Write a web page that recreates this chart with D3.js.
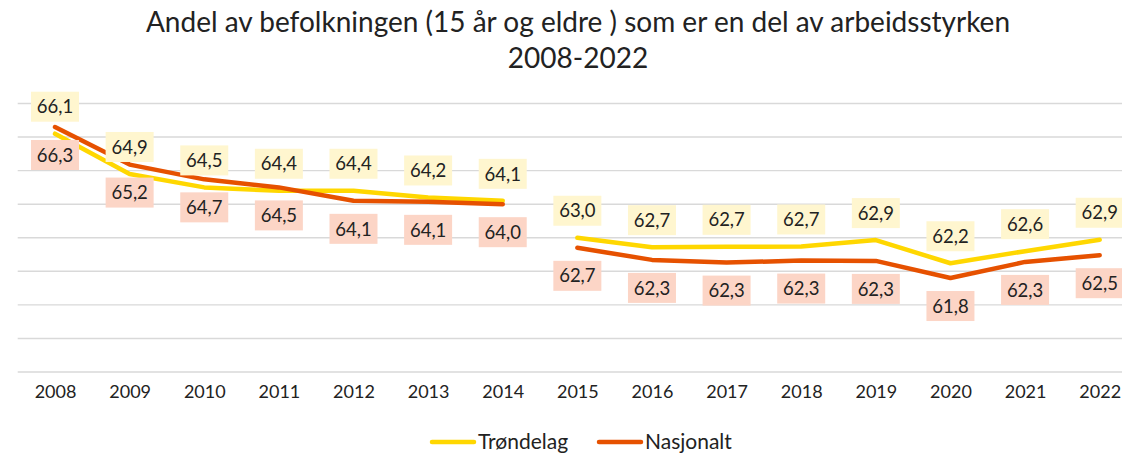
<!DOCTYPE html>
<html>
<head>
  <script src="https://d3js.org/d3.v7.min.js"></script>
  <style>
    body { margin: 0; background: #fff; }
    text { font-family: "Lato", "Open Sans", sans-serif; fill: #222; }
  </style>
</head>
<body>
  <script>
    // data
    const years = ["2008", "2009", "2010", "2011", "2012", "2013", "2014", "2015",
                   "2016", "2017", "2018", "2019", "2020", "2021", "2022"];
    const trondelag = [66.1, 64.9, 64.5, 64.4, 64.4, 64.2, 64.1, 63.0, 62.72, 62.73, 62.74, 62.93, 62.24, 62.6, 62.94];
    const nasjonalt = [66.3, 65.18, 64.74, 64.5, 64.1, 64.07, 64.0, 62.7, 62.34, 62.26, 62.32, 62.31, 61.8, 62.28, 62.48];
    const yTicks = [59, 60, 61, 62, 63, 64, 65, 66, 67];
    const breakAfter = "2014"; // series are not joined across this year

    const width = 1122;
    const height = 454;

    const svg = d3.select("body")
      .append("svg")
      .attr("width", width)
      .attr("height", height);

    const x = d3.scalePoint()
      .domain(years)
      .range([17.7, 1137])
      .padding(0.5);

    const y = d3.scaleLinear()
      .domain([59, 67])
      .range([372, 103.5]);

    // title
    svg.append("text")
      .attr("x", 578)
      .attr("y", 32)
      .attr("text-anchor", "middle")
      .attr("font-size", "28px")
      .text("Andel av befolkningen (15 år og eldre ) som er en del av arbeidsstyrken");
    svg.append("text")
      .attr("x", 578)
      .attr("y", 68)
      .attr("text-anchor", "middle")
      .attr("font-size", "28px")
      .text("2008-2022");

    // gridlines
    svg.append("g")
      .selectAll("line")
      .data(yTicks)
      .join("line")
      .attr("x1", 17.7)
      .attr("x2", 1137)
      .attr("y1", d => y(d))
      .attr("y2", d => y(d))
      .attr("stroke", "#d9d9d9")
      .attr("stroke-width", 1.4);

    // x axis labels
    const xAxis = svg.append("g")
      .attr("transform", `translate(0, ${y(59)})`)
      .call(d3.axisBottom(x).tickSize(0).tickPadding(13));
    xAxis.select(".domain").remove();
    xAxis.selectAll("text")
      .attr("font-size", "18px")
      .attr("font-family", "Lato, sans-serif")
      .attr("fill", "#222");

    const series = [
      { name: "Trøndelag", values: trondelag, color: "#ffd700", box: "#fff6cf", dy: -27 },
      { name: "Nasjonalt", values: nasjonalt, color: "#e65100", box: "#fcd5c6", dy: 28 }
    ];

    const breakIndex = years.indexOf(breakAfter);

    const line = d3.line()
      .x(d => x(d.year))
      .y(d => y(d.value));

    series.forEach(s => {
      const pts = years.map((yr, i) => ({ year: yr, value: s.values[i] }));
      [pts.slice(0, breakIndex + 1), pts.slice(breakIndex + 1)].forEach(seg => {
        svg.append("path")
          .datum(seg)
          .attr("d", line)
          .attr("fill", "none")
          .attr("stroke", s.color)
          .attr("stroke-width", 4.5)
          .attr("stroke-linejoin", "round")
          .attr("stroke-linecap", "round");
      });
    });

    // data labels
    series.forEach(s => {
      const g = svg.append("g")
        .selectAll("g")
        .data(years.map((yr, i) => ({ year: yr, value: s.values[i] })))
        .join("g")
        .attr("transform", d => `translate(${x(d.year)}, ${y(d.value) + s.dy})`);
      g.append("rect")
        .attr("x", -24)
        .attr("y", -15)
        .attr("width", 48)
        .attr("height", 30)
        .attr("fill", s.box);
      g.append("text")
        .attr("text-anchor", "middle")
        .attr("dy", "0.36em")
        .attr("font-size", "18.5px")
        .text(d => d3.format(".1f")(d.value).replace(".", ","));
    });

    // legend
    const legend = svg.append("g")
      .attr("transform", "translate(0, 442)");
    const legendItems = [
      { s: series[0], x: 430 },
      { s: series[1], x: 597 }
    ];
    legendItems.forEach(item => {
      legend.append("line")
        .attr("x1", item.x + 2)
        .attr("x2", item.x + 44)
        .attr("stroke", item.s.color)
        .attr("stroke-width", 4.5)
        .attr("stroke-linecap", "round");
      legend.append("text")
        .attr("x", item.x + 48)
        .attr("dy", "0.35em")
        .attr("font-size", "21px")
        .text(item.s.name);
    });
  </script>
</body>
</html>
